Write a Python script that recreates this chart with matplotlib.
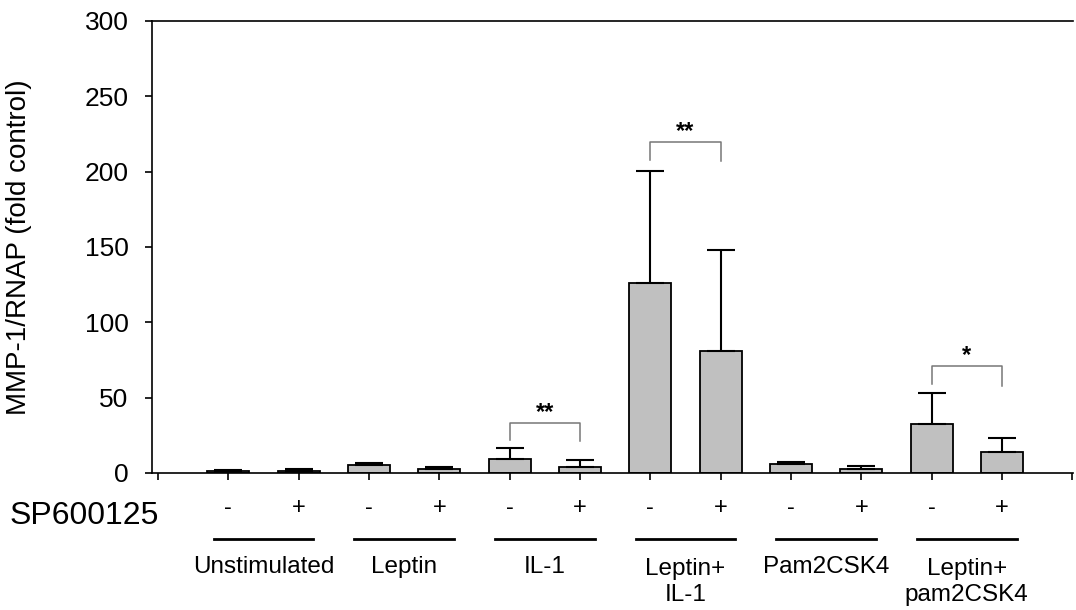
import numpy as np
import matplotlib
matplotlib.use("Agg")
import matplotlib.pyplot as plt
from matplotlib.transforms import blended_transform_factory

plt.rcParams['font.family'] = ['Liberation Sans', 'DejaVu Sans']

# data
groups = ['Unstimulated', 'Leptin', 'IL-1', 'Leptin+\nIL-1', 'Pam2CSK4', 'Leptin+\npam2CSK4']
sp_labels = ['-', '+'] * 6
means = [1.2, 1.3, 5.3, 2.7, 9.5, 4.0, 126.0, 81.0, 5.7, 2.9, 32.7, 14.1]
sem = [0.6, 1.2, 1.5, 1.5, 6.9, 4.4, 74.4, 67.0, 1.6, 1.7, 20.3, 9.1]
# significance brackets: (left bar, right bar, top, left leg end, right leg end, stars)
sig_pairs = [(5, 6, 33.4, 22.0, 21.0, '**'),
             (7, 8, 220.0, 208.0, 207.0, '**'),
             (11, 12, 71.0, 59.0, 58.0, '*')]

x = np.arange(1, len(means) + 1)

fig = plt.figure(figsize=(10.76, 6.10), dpi=100)
ax = fig.add_axes([152/1076, 1 - 473/610, 1 - 152/1076 - 3/1076, (473 - 21)/610])

ax.bar(x, means, width=0.6, color='#c0c0c0', edgecolor='black', linewidth=1.3, zorder=2)
ax.errorbar(x, means, yerr=[np.zeros(len(sem)), sem], fmt='none', ecolor='black',
            elinewidth=1.5, capsize=10, capthick=1.5, zorder=3)

for l, r, top, hl, hr, stars in sig_pairs:
    ax.plot([l, l, r, r], [hl, top, top, hr], color='#777777', lw=1.1, zorder=1)
    ax.annotate(stars, xy=((l + r) / 2, top), xytext=(0, -1), textcoords='offset points',
                ha='center', va='bottom', fontsize=17, fontweight='bold')

ax.set_xlim(-0.085, 13.01)
ax.set_ylim(0, 300)
ax.set_yticks(np.arange(0, 301, 50))
ax.set_xticks(np.arange(0, 14))
ax.set_xticklabels([])
ax.tick_params(axis='y', direction='out', length=5, width=1.2, labelsize=19, pad=12)
ax.tick_params(axis='x', direction='out', length=5, width=1.2)
ax.spines['right'].set_visible(False)
for s in ['left', 'bottom', 'top']:
    ax.spines[s].set_linewidth(1.2)
ax.set_ylabel('MMP-1/RNAP (fold control)', fontsize=20)
ax.yaxis.set_label_coords(-(152 - 32) / (1076 * ax.get_position().width), 0.5)

trans = blended_transform_factory(ax.transData, fig.transFigure)
for xi, s in zip(x, sp_labels):
    ax.text(xi, 1 - 508/610, s, transform=trans, ha='center', va='center', fontsize=17,
            clip_on=False)
for i, g in enumerate(groups):
    cx = 2 * i + 1.5
    ax.plot([cx - 0.71, cx + 0.71], [1 - 539/610] * 2, transform=trans, color='black',
            lw=2, clip_on=False)
    yc = 567 if '\n' not in g else 582
    ax.text(cx, 1 - yc/610, g, transform=trans, ha='center', va='center', fontsize=17.5,
            linespacing=1.2, clip_on=False)

fig.text(10/1076, 1 - 516/610, 'SP600125', ha='left', va='center', fontsize=23)

fig.savefig('out.png', dpi=100)
